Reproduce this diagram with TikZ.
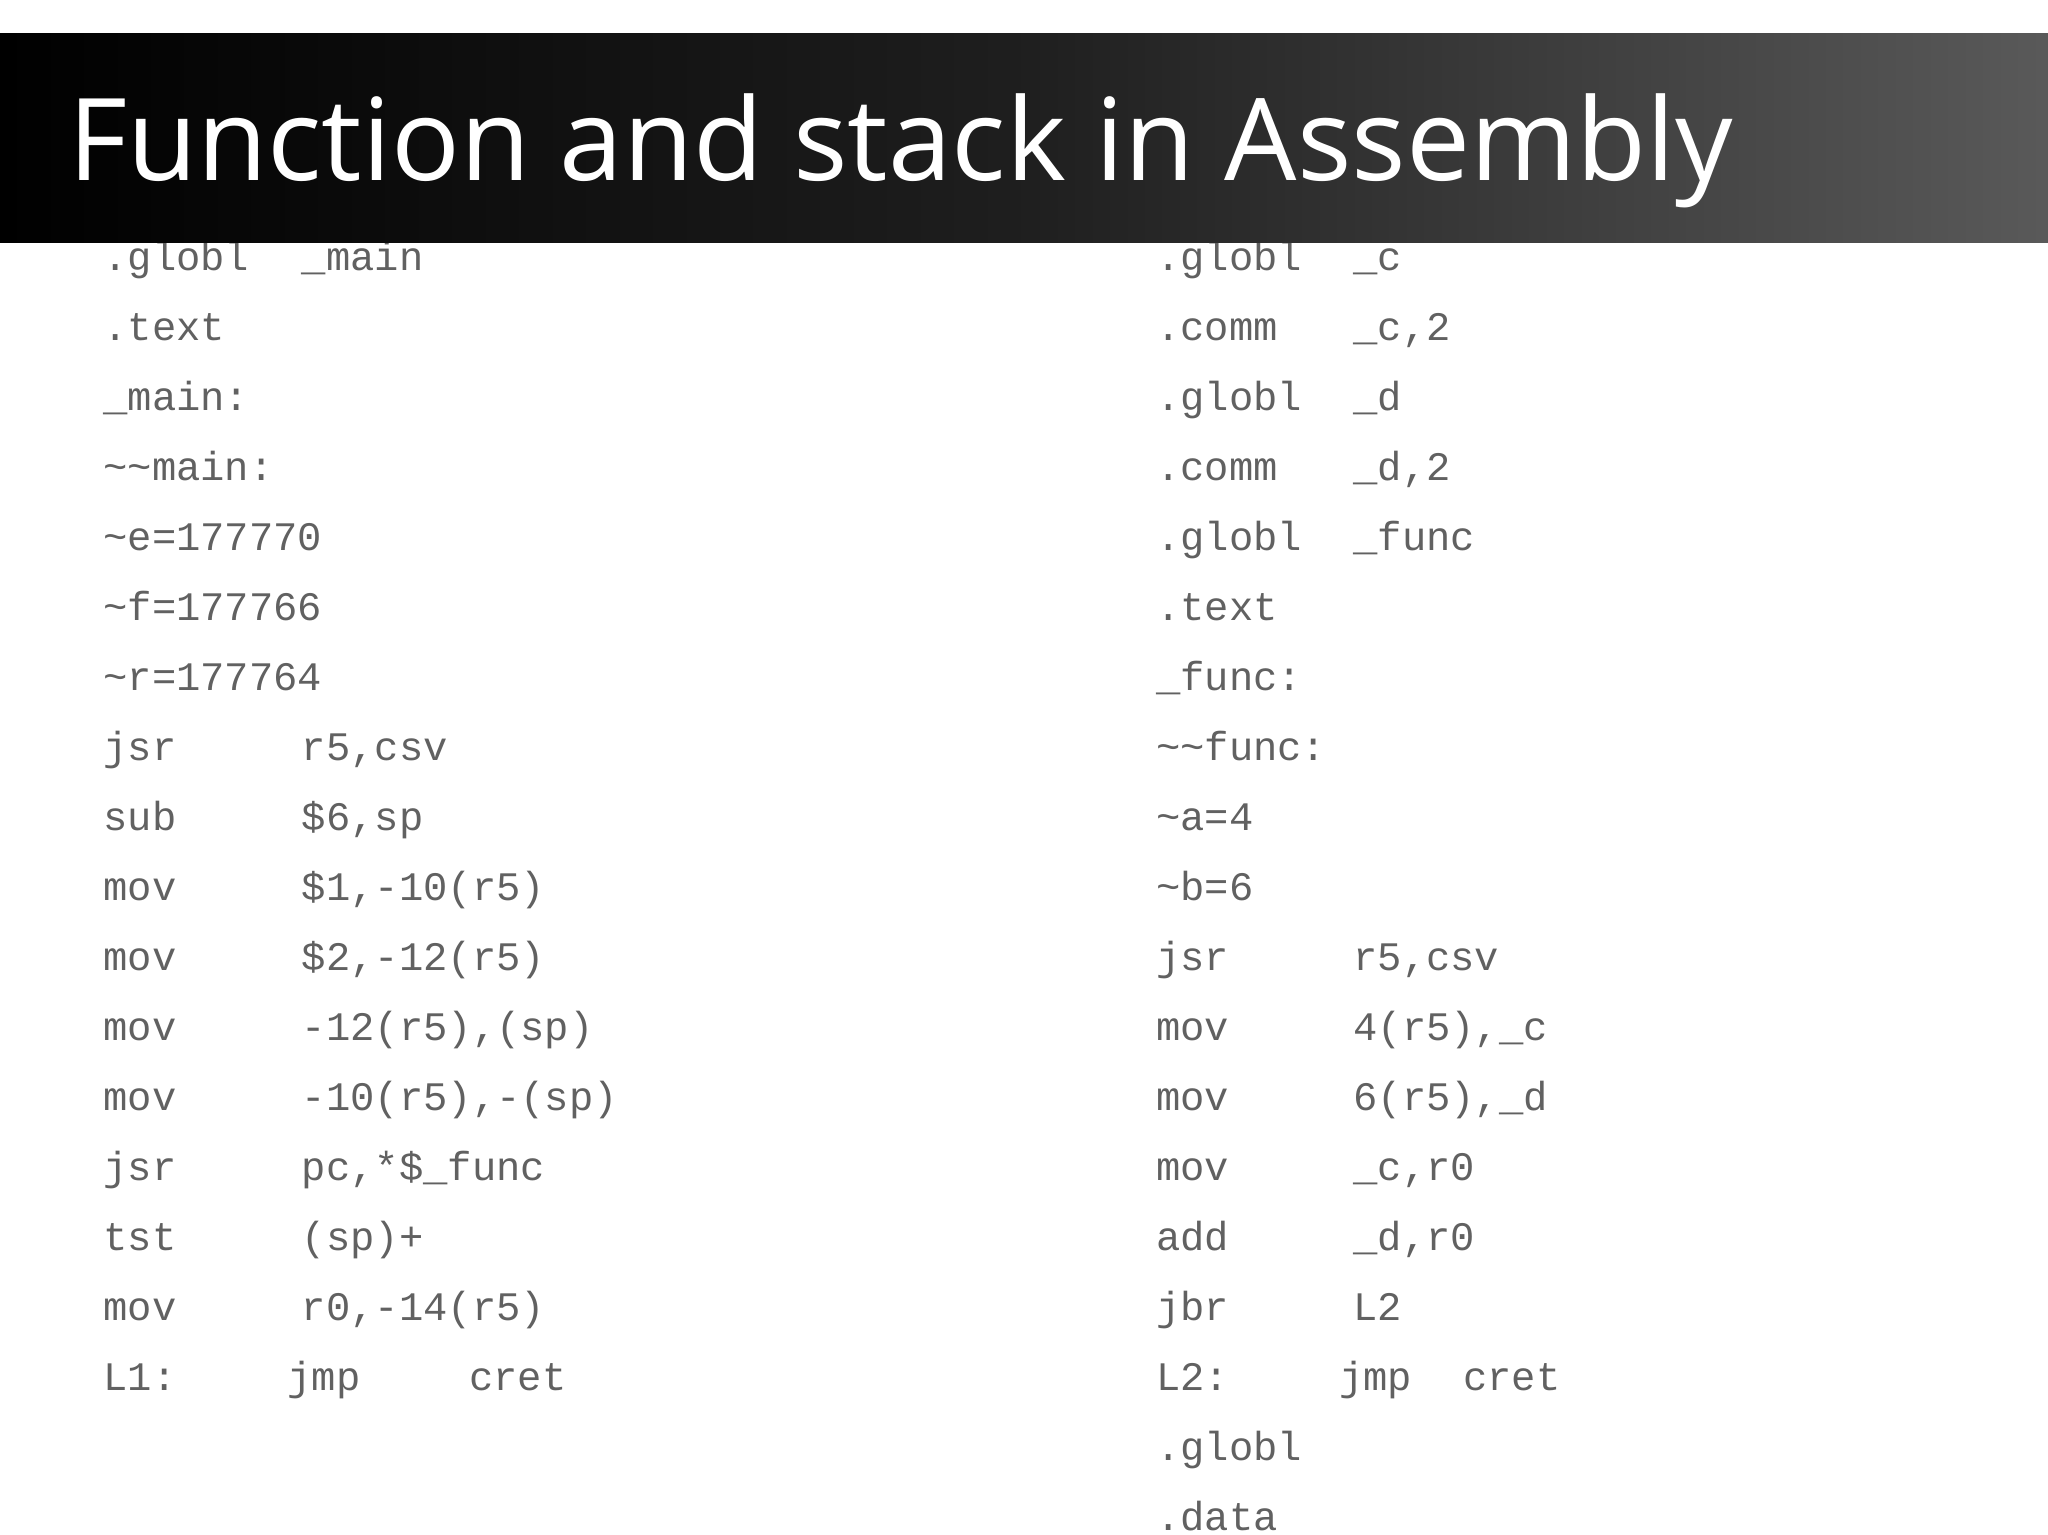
\documentclass[tikz,border=0pt]{standalone}
\usepackage{fontspec}
\setmainfont{Open Sans}
\newfontfamily\codefont{Liberation Mono}
\begin{document}
\begin{tikzpicture}[x=1pt,y=-1pt,
  code/.style={anchor=base west,inner sep=0pt,font=\codefont\fontsize{31}{31}\selectfont,text=black!62}]
\useasboundingbox (0,0) rectangle (1568,1175);
\fill[white] (0,0) rectangle (1568,1175);
\foreach \i/\a/\b in {0/.globl/\_main,1/.text/,2/\_main:/,3/\string~\string~main:/,4/\string~e=177770/,5/\string~f=177766/,6/\string~r=177764/,7/jsr/{r5,csv},8/sub/{\$6,sp},9/mov/{\$1,-10(r5)},10/mov/{\$2,-12(r5)},11/mov/{-12(r5),(sp)},12/mov/{-10(r5),-(sp)},13/jsr/{pc,*\$\_func},14/tst/{(sp)+},15/mov/{r0,-14(r5)}}{
  \node[code] (l\i a) at (79,{207+53.6*\i}) {\a};
  \node[code] (l\i b) at (231,{207+53.6*\i}) {\b};
}
\node[code] (l16a) at (79,{207+53.6*16}) {L1:};
\node[code] (l16b) at (220,{207+53.6*16}) {jmp};
\node[code] (l16c) at (359,{207+53.6*16}) {cret};
\foreach \i/\a/\b in {0/.globl/\_c,1/.comm/{\_c,2},2/.globl/\_d,3/.comm/{\_d,2},4/.globl/\_func,5/.text/,6/\_func:/,7/\string~\string~func:/,8/\string~a=4/,9/\string~b=6/,10/jsr/{r5,csv},11/mov/{4(r5),\_c},12/mov/{6(r5),\_d},13/mov/{\_c,r0},14/add/{\_d,r0},15/jbr/L2,17/.globl/,18/.data/}{
  \node[code] (r\i a) at (885,{207+53.6*\i}) {\a};
  \node[code] (r\i b) at (1036,{207+53.6*\i}) {\b};
}
\node[code] (r16a) at (885,{207+53.6*16}) {L2:};
\node[code] (r16b) at (1025,{207+53.6*16}) {jmp};
\node[code] (r16c) at (1120,{207+53.6*16}) {cret};
\shade[left color=black,right color=black!65,middle color=black!88] (0,26) rectangle (1568,186);
\node[anchor=base west,inner sep=0pt,text=white,font=\fontsize{87.5}{88}\selectfont] (title) at (52,138) {Function and stack in Assembly};
\end{tikzpicture}
\end{document}
